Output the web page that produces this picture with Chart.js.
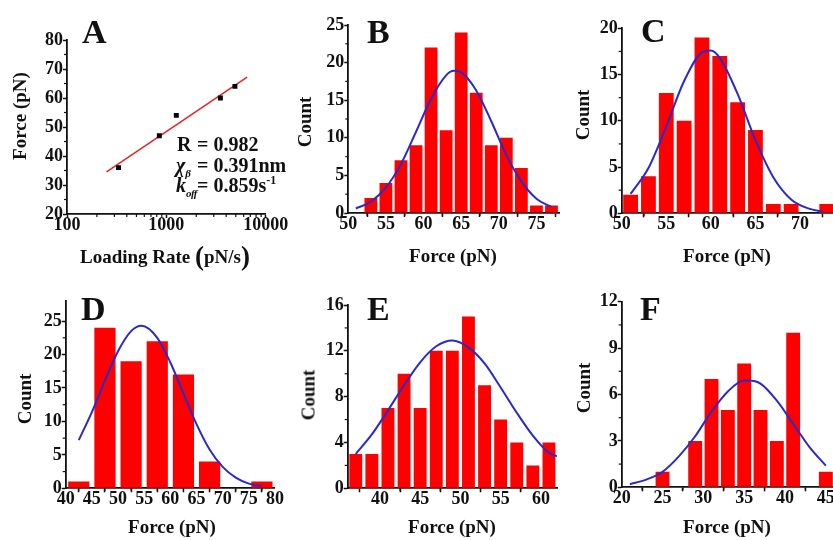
<!DOCTYPE html>
<html><head><meta charset="utf-8">
<script src="https://cdn.jsdelivr.net/npm/chart.js@4/dist/chart.umd.min.js"></script>
<style>
html,body{margin:0;padding:0;background:#fff;}
#wrap{position:relative;width:833px;height:540px;overflow:hidden;background:#fff;font-family:"Liberation Serif","Times New Roman",serif;font-weight:bold;color:#111;}
canvas{position:absolute;left:0;top:0;}
.t{position:absolute;white-space:nowrap;line-height:1;}
.c{transform:translate(-50%,-50%);}
.r{transform:translate(-50%,-50%) rotate(-90deg);}
.L{font-size:34px;}
.ax{font-size:19px;}
.an{font-size:20px;}
.sb{font-size:11px;position:relative;top:5px;letter-spacing:-0.6px;}
.sp{font-size:12px;position:relative;top:-8px;}
.par{font-size:27px;position:relative;top:2px;}
</style></head><body><div id="wrap">
<canvas id="cA" width="860" height="560"></canvas>
<canvas id="cB" width="860" height="560"></canvas>
<canvas id="cC" width="860" height="560"></canvas>
<canvas id="cD" width="860" height="560"></canvas>
<canvas id="cE" width="860" height="560"></canvas>
<canvas id="cF" width="860" height="560"></canvas>

<div class="t L" style="left:82px;top:15px">A</div>
<div class="t L" style="left:367px;top:15px">B</div>
<div class="t L" style="left:641px;top:14px">C</div>
<div class="t L" style="left:81px;top:292px">D</div>
<div class="t L" style="left:367px;top:292px">E</div>
<div class="t L" style="left:640px;top:292px">F</div>

<div class="t an" style="left:177px;top:134px">R</div>
<div class="t an" style="left:197px;top:134px">= 0.982</div>
<div class="t an" style="left:176px;top:155px"><i>χ</i><span class="sb"><i>β</i></span></div>
<div class="t an" style="left:197px;top:155px">= 0.391nm</div>
<div class="t an" style="left:176px;top:175px"><i>k</i><span class="sb"><i>off</i></span></div>
<div class="t an" style="left:197px;top:175px">= 0.859s<span class="sp">-1</span></div>

<div class="t ax c" style="left:165px;top:254px">Loading Rate <span class="par">(</span>pN/s<span class="par">)</span></div>
<div class="t ax r" style="left:19px;top:116px">Force (pN)</div>
<div class="t ax c" style="left:453px;top:255px">Force (pN)</div>
<div class="t ax r" style="left:304px;top:122px">Count</div>
<div class="t ax c" style="left:727px;top:255px">Force (pN)</div>
<div class="t ax r" style="left:582px;top:115px">Count</div>
<div class="t ax c" style="left:172px;top:526px">Force (pN)</div>
<div class="t ax r" style="left:24px;top:399px">Count</div>
<div class="t ax c" style="left:452px;top:526px">Force (pN)</div>
<div class="t ax r" style="left:308px;top:395px">Count</div>
<div class="t ax c" style="left:727px;top:526px">Force (pN)</div>
<div class="t ax r" style="left:583px;top:388px">Count</div>
</div>
<script>
// ---------- DATA ----------
// Panel A: dynamic force spectroscopy
const aLoadingRate = [330, 850, 1260, 3500, 4900];
const aForce = [36, 47, 54, 60, 64];
const aFitRate = [250, 6500];
const aFitForce = [34.5, 67.2];
const aXTicks = [100, 1000, 10000];
const aYTicks = [20, 30, 40, 50, 60, 70, 80];

// Panel B
const bBins = [53, 55, 57, 59, 61, 63, 65, 67, 69, 71, 73, 75, 77];
const bCounts = [2, 4, 7, 9, 22, 11, 24, 16, 9, 10, 6, 1, 1];
const bFitX = [51, 53, 55, 57, 59, 61, 63, 64, 65, 67, 69, 71, 73, 75, 77];
const bFitY = [0.6, 1.5, 3.4, 6.5, 10.8, 15.2, 18.3, 18.9, 18.7, 16.3, 12.2, 7.7, 4.2, 1.9, 0.8];
const bXTicks = [50, 55, 60, 65, 70, 75];
const bYTicks = [0, 5, 10, 15, 20, 25];

// Panel C
const cBins = [51, 53, 55, 57, 59, 61, 63, 65, 67, 69, 71, 73];
const cCounts = [2, 4, 13, 10, 19, 17, 12, 9, 1, 1, 0, 1];
const cFitX = [51, 53, 55, 57, 59, 60, 61, 63, 65, 67, 69, 71, 72.5];
const cFitY = [2.1, 4.9, 9.4, 14.3, 17.4, 17.6, 16.8, 12.9, 7.9, 3.9, 1.5, 0.5, 0.2];
const cXTicks = [50, 55, 60, 65, 70];
const cYTicks = [0, 5, 10, 15, 20];

// Panel D
const dBins = [42.5, 47.5, 52.5, 57.5, 62.5, 67.5, 72.5, 77.5];
const dCounts = [1, 24, 19, 22, 17, 4, 0, 1];
const dFitX = [42.5, 45, 47.5, 50, 52.5, 54.5, 57.5, 60, 62.5, 65, 67.5, 70, 72.5, 75, 77.5];
const dFitY = [7.2, 11.4, 16.1, 20.5, 23.5, 24.3, 22.5, 18.8, 14.2, 9.6, 5.8, 3.2, 1.6, 0.7, 0.3];
const dXTicks = [40, 45, 50, 55, 60, 65, 70, 75, 80];
const dYTicks = [0, 5, 10, 15, 20, 25];

// Panel E
const eBins = [37, 39, 41, 43, 45, 47, 49, 51, 53, 55, 57, 59, 61];
const eCounts = [3, 3, 7, 10, 7, 12, 12, 15, 9, 6, 4, 2, 4];
const eFitX = [37, 39, 41, 43, 45, 47, 49, 51, 53, 55, 57, 59, 61, 62];
const eFitY = [3.0, 4.7, 6.8, 9.0, 11.0, 12.4, 12.9, 12.3, 10.9, 8.8, 6.6, 4.6, 3.1, 2.8];
const eXTicks = [40, 45, 50, 55, 60];
const eYTicks = [0, 4, 8, 12, 16];

// Panel F
const fBins = [25, 27, 29, 31, 33, 35, 37, 39, 41, 43, 45];
const fCounts = [1, 0, 3, 7, 5, 8, 5, 3, 10, 0, 1];
const fFitX = [21, 23, 25, 27, 29, 31, 33, 35, 35.5, 37, 39, 41, 43, 45];
const fFitY = [0.2, 0.5, 1.0, 2.0, 3.3, 4.9, 6.2, 6.9, 6.9, 6.7, 5.6, 4.1, 2.6, 1.4];
const fXTicks = [20, 25, 30, 35, 40, 45];
const fYTicks = [0, 3, 6, 9, 12];

// ---------- STYLE / LAYOUT ----------
const W = 860, H = 560, YW = 60, XH = 40;
const INK = '#111';
const FONT = {family: '"Liberation Serif","Times New Roman",serif', size: 18, weight: 'bold', lineHeight: 1};

function midMinors(arr) {
  const out = [];
  for (let i = 0; i < arr.length - 1; i++) out.push((arr[i] + arr[i + 1]) / 2);
  return out;
}
function logMinors(arr) {
  const out = [];
  for (let i = 0; i < arr.length - 1; i++) for (let k = 2; k <= 9; k++) out.push(arr[i] * k);
  return out;
}

const minorPlugin = {
  id: 'minorTicks',
  afterDraw(chart, args, opts) {
    const ctx = chart.ctx, a = chart.chartArea;
    ctx.save();
    ctx.strokeStyle = INK; ctx.lineWidth = 1.2;
    (opts.x || []).forEach(v => {
      const p = chart.scales.x.getPixelForValue(v);
      ctx.beginPath(); ctx.moveTo(p, a.bottom); ctx.lineTo(p, a.bottom + 3); ctx.stroke();
    });
    (opts.y || []).forEach(v => {
      const p = chart.scales.y.getPixelForValue(v);
      ctx.beginPath(); ctx.moveTo(a.left, p); ctx.lineTo(a.left - 3, p); ctx.stroke();
    });
    ctx.restore();
  }
};
Chart.register(minorPlugin);

function axis(type, min, max, ticksArr, isX) {
  return {
    type, min, max, offset: false,
    grid: {display: true, drawOnChartArea: false, drawTicks: true, tickLength: 4, tickColor: INK, tickWidth: 1.5},
    border: {display: true, color: INK, width: 1.8},
    ticks: {font: FONT, color: INK, padding: isX ? -1.5 : 0, autoSkip: false, maxRotation: 0, callback: v => String(v)},
    afterBuildTicks: s => { s.ticks = ticksArr.map(v => ({value: v})); },
    afterFit: s => { if (isX) s.height = XH; else s.width = YW; }
  };
}
function pad(L, T, R, B) {
  return {left: L - YW, top: T, right: W - R, bottom: H - B - XH};
}
function baseOpts(rect, xs, ys, minX, minY) {
  return {
    responsive: false, animation: false, events: [],
    layout: {padding: pad(...rect)},
    plugins: {legend: {display: false}, tooltip: {enabled: false}, minorTicks: {x: minX, y: minY}},
    scales: {x: xs, y: ys}
  };
}

// Panel A
new Chart(document.getElementById('cA'), {
  type: 'scatter',
  data: {datasets: [
    {type: 'line', data: aFitRate.map((x, i) => ({x, y: aFitForce[i]})), borderColor: '#e02828', borderWidth: 1.6, pointRadius: 0, fill: false, order: 1},
    {type: 'scatter', data: aLoadingRate.map((x, i) => ({x, y: aForce[i]})), backgroundColor: '#000', borderColor: '#000', pointStyle: 'rect', pointRadius: 3.5, borderWidth: 0, order: 0}
  ]},
  options: baseOpts([67, 40, 265.7, 214],
    axis('logarithmic', 100, 10000, aXTicks, true),
    axis('linear', 20, 80, aYTicks, false),
    logMinors(aXTicks), midMinors(aYTicks))
});

function hist(id, rect, bins, counts, fitX, fitY, xr, yr, xt, yt, bp) {
  new Chart(document.getElementById(id), {
    type: 'bar',
    data: {datasets: [
      {type: 'line', data: fitX.map((x, i) => ({x, y: fitY[i]})), borderColor: '#2a2ac8', borderWidth: 2, pointRadius: 0, cubicInterpolationMode: 'monotone', fill: false, order: 0},
      {type: 'bar', data: bins.map((x, i) => ({x, y: counts[i]})), backgroundColor: '#ff0000', borderWidth: 0, barPercentage: bp, categoryPercentage: 1, order: 1}
    ]},
    options: baseOpts(rect,
      axis('linear', xr[0], xr[1], xt, true),
      axis('linear', yr[0], yr[1], yt, false),
      midMinors(xt), midMinors(yt))
  });
}

hist('cB', [348.3, 25, 559, 213], bBins, bCounts, bFitX, bFitY, [50, 78], [0, 25], bXTicks, bYTicks, 0.85);
hist('cC', [621.7, 28.3, 835.7, 213.3], cBins, cCounts, cFitX, cFitY, [50, 74], [0, 20], cXTicks, cYTicks, 0.83);
hist('cD', [65.7, 301, 275, 488.3], dBins, dCounts, dFitX, dFitY, [40, 80], [0, 28], dXTicks, dYTicks, 0.81);
hist('cE', [347.7, 305, 557, 488.3], eBins, eCounts, eFitX, eFitY, [36, 62], [0, 16], eXTicks, eYTicks, 0.8);
hist('cF', [621.7, 301.7, 834, 487.3], fBins, fCounts, fFitX, fFitY, [20, 46], [0, 12], fXTicks, fYTicks, 0.85);
</script>
</body></html>
